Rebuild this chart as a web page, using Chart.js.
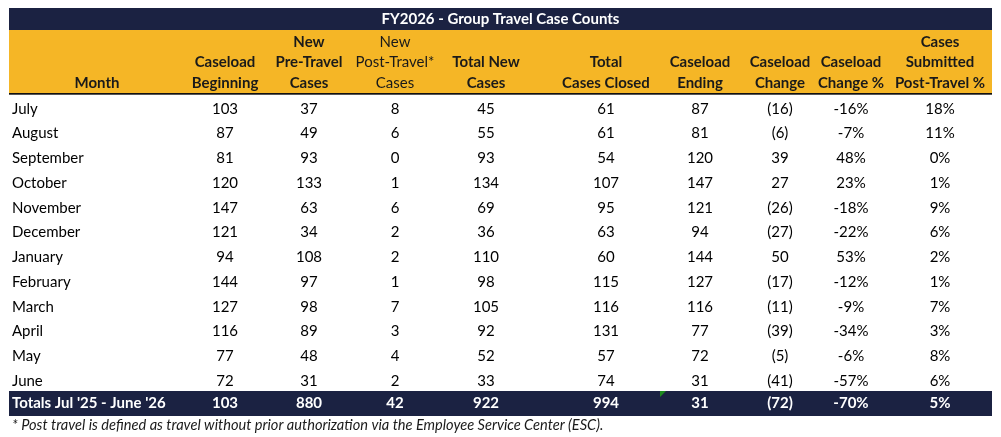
<!DOCTYPE html>
<html>
<head>
<meta charset="utf-8">
<title>FY2026 - Group Travel Case Counts</title>
<script src="https://cdn.jsdelivr.net/npm/chart.js@4"></script>
<style>
  html, body { margin: 0; padding: 0; background: #ffffff; }
  #wrap { width: 1001px; height: 437px; }
</style>
</head>
<body>
<div id="wrap"><canvas id="table" width="1001" height="437"></canvas></div>
<script>
// ---- data ----
const title = "FY2026 - Group Travel Case Counts";
const months = ["July", "August", "September", "October", "November", "December",
  "January", "February", "March", "April", "May", "June"];
const caseloadBeginning = [103, 87, 81, 120, 147, 121, 94, 144, 127, 116, 77, 72];
const newPreTravel = [37, 49, 93, 133, 63, 34, 108, 97, 98, 89, 48, 31];
const newPostTravel = [8, 6, 0, 1, 6, 2, 2, 1, 7, 3, 4, 2];
const totalNewCases = [45, 55, 93, 134, 69, 36, 110, 98, 105, 92, 52, 33];
const totalCasesClosed = [61, 61, 54, 107, 95, 63, 60, 115, 116, 131, 57, 74];
const caseloadEnding = [87, 81, 120, 147, 121, 94, 144, 127, 116, 77, 72, 31];
const caseloadChange = [-16, -6, 39, 27, -26, -27, 50, -17, -11, -39, -5, -41];
const caseloadChangePct = [-16, -7, 48, 23, -18, -22, 53, -12, -9, -34, -6, -57];
const postTravelPct = [18, 11, 0, 1, 9, 6, 2, 1, 7, 3, 8, 6];
const totalsLabel = "Totals Jul '25 - June '26";
const totalsValues = [103, 880, 42, 922, 994, 31, -72, -70, 5];
const columnHeaders = [
  ["Month"], ["Caseload", "Beginning"], ["New", "Pre-Travel", "Cases"],
  ["New", "Post-Travel*", "Cases"], ["Total New", "Cases"], ["Total", "Cases Closed"],
  ["Caseload", "Ending"], ["Caseload", "Change"], ["Caseload", "Change %"],
  ["Cases", "Submitted", "Post-Travel %"]
];
const footnote = "* Post travel is defined as travel without prior authorization via the Employee Service Center (ESC).";

// ---- layout (scale units) ----
const colX = [97, 225, 309, 395, 486, 606, 700, 780, 851, 940];
const tableLeft = 9, tableRight = 992;
const titleTop = 8, headTop = 30, bodyTop = 94, rowH = 24.75, totalsH = 25;
const navy = "#1b2242", gold = "#f5b626";
const FONT = "Lato, 'Open Sans', sans-serif";

const fmtNum = v => v < 0 ? "(" + (-v) + ")" : String(v);
const fmtPct = v => v + "%";
const formats = [fmtNum, fmtNum, fmtNum, fmtNum, fmtNum, fmtNum, fmtNum, fmtNum, fmtPct, fmtPct];

// build the cell list: one point per cell, placed by the chart's scales
const series = [caseloadBeginning, newPreTravel, newPostTravel, totalNewCases,
  totalCasesClosed, caseloadEnding, caseloadChange, caseloadChangePct, postTravelPct];
const cells = [];
months.forEach((m, r) => {
  const y = bodyTop + r * rowH + rowH / 2 + 2.5;
  cells.push({ x: 12, y: y, text: m, align: "left", kind: "body" });
  series.forEach((s, c) => {
    cells.push({ x: colX[c + 1], y: y, text: formats[c + 1](s[r]), align: "center", kind: "body" });
  });
});
const totalsTop = bodyTop + months.length * rowH;
const totalsY = totalsTop + totalsH / 2;
cells.push({ x: 12, y: totalsY, text: totalsLabel, align: "left", kind: "total" });
totalsValues.forEach((v, c) => {
  cells.push({ x: colX[c + 1], y: totalsY, text: formats[c + 1](v), align: "center", kind: "total" });
});
columnHeaders.forEach((lines, c) => {
  lines.forEach((t, i) => {
    const y = 83 - (lines.length - 1 - i) * 20.5;
    cells.push({ x: colX[c], y: y, text: t, align: "center", kind: c === 3 ? "headLight" : "head" });
  });
});
cells.push({ x: (tableLeft + tableRight) / 2, y: 19.5, text: title, align: "center", kind: "title" });
cells.push({ x: 12, y: 425, text: footnote, align: "left", kind: "note" });

const tablePlugin = {
  id: "tablePlugin",
  beforeDatasetsDraw(chart) {
    const ctx = chart.ctx, x = chart.scales.x, y = chart.scales.y;
    const band = (top, bottom, color) => {
      ctx.fillStyle = color;
      ctx.fillRect(x.getPixelForValue(tableLeft), y.getPixelForValue(top),
        x.getPixelForValue(tableRight) - x.getPixelForValue(tableLeft),
        y.getPixelForValue(bottom) - y.getPixelForValue(top));
    };
    ctx.save();
    band(titleTop, headTop, navy);
    band(headTop, bodyTop, gold);
    band(bodyTop - 1, bodyTop + 0.7, "#111111");
    band(totalsTop, totalsTop + totalsH, navy);
    // small green error marker in the totals row
    const gx = x.getPixelForValue(660), gy = y.getPixelForValue(totalsTop);
    ctx.fillStyle = "#1e8a1e";
    ctx.beginPath();
    ctx.moveTo(gx, gy); ctx.lineTo(gx + 6, gy); ctx.lineTo(gx, gy + 6); ctx.closePath();
    ctx.fill();
    ctx.restore();
  },
  afterDatasetsDraw(chart) {
    const ctx = chart.ctx;
    const meta = chart.getDatasetMeta(0);
    const styles = {
      body: ["400 15px " + FONT, "#000000"],
      total: ["700 15px " + FONT, "#ffffff"],
      head: ["700 15px " + FONT, "#1a1a1a"],
      headLight: ["400 15px " + FONT, "#1a1a1a"],
      title: ["700 15px " + FONT, "#ffffff"],
      note: ["italic 400 14.6px " + FONT, "#1a1a1a"]
    };
    ctx.save();
    ctx.textBaseline = "middle";
    meta.data.forEach((el, i) => {
      const cell = cells[i];
      const st = styles[cell.kind];
      ctx.font = st[0];
      ctx.fillStyle = st[1];
      ctx.textAlign = cell.align;
      ctx.fillText(cell.text, el.x, el.y);
    });
    ctx.restore();
  }
};

new Chart(document.getElementById("table"), {
  type: "scatter",
  data: {
    datasets: [{
      data: cells.map(c => ({ x: c.x, y: c.y })),
      pointRadius: 0,
      pointHoverRadius: 0
    }]
  },
  options: {
    responsive: false,
    animation: false,
    events: [],
    layout: { padding: 0 },
    plugins: { legend: { display: false }, tooltip: { enabled: false } },
    scales: {
      x: { type: "linear", min: 0, max: 1001, display: false },
      y: { type: "linear", min: 0, max: 437, reverse: true, display: false }
    }
  },
  plugins: [tablePlugin]
});
</script>
</body>
</html>
